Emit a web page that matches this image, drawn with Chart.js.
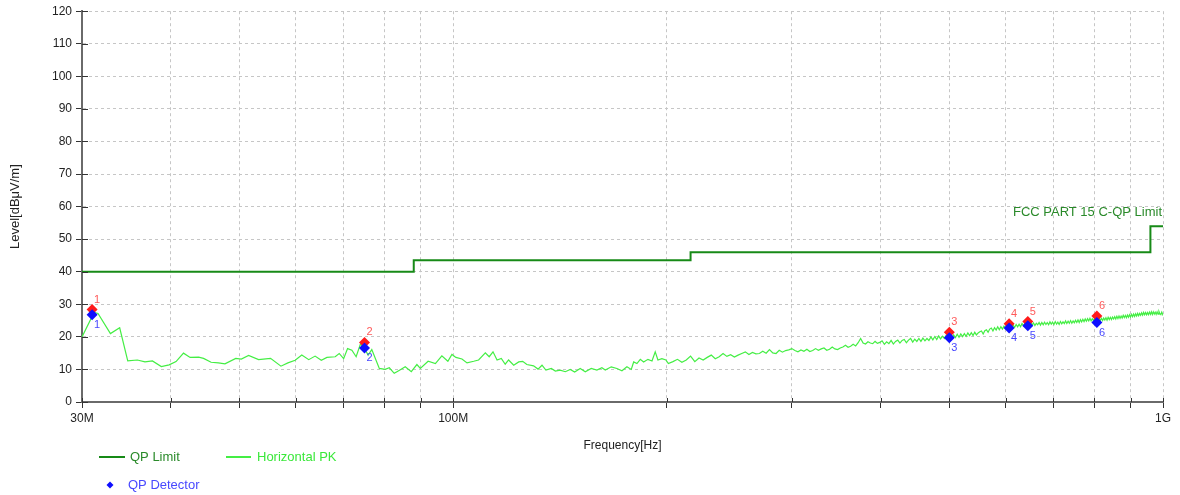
<!DOCTYPE html>
<html>
<head>
<meta charset="utf-8">
<title>Radiated Emission Scan</title>
<script src="https://cdn.jsdelivr.net/npm/chart.js@4.4.1/dist/chart.umd.min.js"></script>
<style>
  html, body { margin: 0; padding: 0; background: #ffffff; }
  canvas { display: block; }
</style>
</head>
<body>
<canvas id="scan" width="1180" height="495"></canvas>
<script>
// ---- Data -------------------------------------------------------------
// FCC Part 15 class limit (QP), stepped; frequencies in MHz, level in dBµV/m
const limitFreqMHz = [30, 88, 216, 960, 1000];
const limitLevel   = [40, 43.5, 46, 54, 54];

// Horizontal polarisation peak sweep: [MHz, dBµV/m]
const pkTrace = [
  [30.0,20.0],[31.2,27.5],[31.6,27.2],[32.9,21.0],[33.9,22.8],[34.8,12.6],[35.9,12.9],[36.8,12.3],
  [37.7,12.6],[38.8,10.9],[39.8,11.4],[40.7,12.4],[41.7,15.0],[42.6,13.7],[43.8,13.8],[44.5,13.4],
  [45.6,12.2],[46.7,12.0],[47.7,11.7],[49.4,13.4],[50.3,13.2],[51.5,14.3],[53.2,13.0],[55.3,13.4],
  [57.2,11.0],[58.5,12.0],[59.9,12.8],[61.2,14.4],[62.6,13.0],[63.9,14.1],[65.2,12.8],[66.4,13.7],
  [68.2,13.9],[69.1,14.9],[70.1,13.3],[71.0,16.4],[72.0,15.9],[73.0,13.9],[74.0,17.7],[74.8,16.9],
  [75.9,14.4],[76.8,16.1],[78.7,10.3],[80.2,10.0],[81.3,10.5],[82.6,8.8],[83.8,9.6],[85.6,10.8],
  [87.3,9.3],[88.9,11.5],[89.9,10.3],[92.2,12.5],[94.4,11.8],[96.4,14.2],[98.3,12.5],[99.6,14.6],
  [100.9,13.7],[102.9,13.2],[104.6,12.0],[106.9,12.5],[108.6,12.9],[111.0,15.1],[112.4,13.9],[113.8,15.4],
  [115.3,12.9],[116.9,13.4],[118.4,11.6],[119.7,12.9],[121.7,11.3],[123.7,12.3],[125.3,12.5],[127.0,11.5],
  [129.8,11.1],[131.7,10.1],[133.4,11.3],[135.1,9.8],[137.5,10.3],[139.3,9.5],[141.5,9.8],[143.9,9.3],
  [146.2,10.0],[148.3,9.2],[151.0,10.3],[153.5,9.3],[156.5,10.3],[159.4,9.8],[162.0,10.5],[163.8,9.8],
  [167.0,10.8],[170.1,10.3],[172.9,9.6],[175.7,10.8],[178.2,10.0],[179.6,12.3],[181.5,11.8],[183.5,13.1],
  [185.5,12.3],[188.1,13.1],[190.6,12.6],[192.6,15.4],[194.3,12.9],[196.8,13.3],[199.4,12.9],
  [201,11.8],[204,12.4],[207,13.1],[210,12.2],[213,12.9],[216,14.1],[219,12.4],[222,13.5],[225,12.9],
  [228,13.7],[231,14.4],[234,13.3],[237,13.9],[240,14.9],[243,14.0],[246,14.5],[249,13.8],
  [252,14.4],[255,14.9],[258,15.4],[261,14.6],[264,15.2],[267,14.8],[270,14.9],[273,15.6],
  [276,15.0],[279,16.1],[282,15.1],[285,14.9],[288,15.9],[291,15.3],[294,15.8],[297,16.0],[300,16.4],
  [303,15.8],[306,15.4],[309,16.0],[312,15.6],[315,16.2],[318,15.5],[321,15.8],[324,16.4],
  [327,15.9],[330,16.3],[333,16.6],[336,15.9],[339,16.2],[342,16.9],[345,16.3],[348,16.1],
  [351,16.6],[354,16.9],[357,17.4],[360,16.8],[363,17.1],[366,17.7],[369,17.2],[372,18.2],[375,19.5],
  [378,18.1],[381,17.8],[384,18.5],[387,18.1],[390,17.9],[393,18.6],[396,18.0],[399,18.3],
  [402,18.8],[405,17.7],[408,18.5],[411,17.9],[414,18.9],[417,17.8],[420,18.6],[423,19.0],
  [426,18.1],[429,18.9],[432,19.2],[435,18.2],[438,19.0],[441,19.5],[444,18.4],[447,19.3],[450,18.6],
  [453,19.5],[456,18.6],[459,19.6],[462,18.8],[465,19.5],[468,18.9],[471,20.0],[474,19.1],
  [477,20.1],[480,19.2],[483,20.3],[486,19.4],[489,20.2],[492,19.5],[495,20.5],[498,19.5],
  [501,20.4],[504,19.6],[507,20.6],[510,19.8],[513,20.8],[516,19.9],[519,20.9],[522,20.1],[525,21.0],
  [528,20.2],[531,21.2],[534,20.4],[537,21.3],[540,20.4],[543,21.4],[546,20.6],[549,21.2],
  [552,21.6],[555,21.8],[558,20.9],[561,21.9],[564,22.2],[567,21.4],[570,22.4],[573,22.7],
  [576,21.8],[579,22.8],[582,22.1],[585,23.1],[588,22.2],[591,23.1],[594,22.4],[597,23.3],[600,22.6],
  [603,23.3],[606,22.6],[609,23.6],[612,22.8],[615,23.6],[618,22.9],[621,23.8],[624,23.1],
  [627,23.9],[630,23.1],[633,24.1],[636,23.4],[639,24.2],[642,23.4],[645,24.3],[648,23.6],
  [651,24.4],[654,23.6],[657,24.3],[660,23.5],[663,24.2],[666,23.7],[669,24.4],[672,23.6],[675,24.4],
  [678,23.7],[681,24.5],[684,23.8],[687,24.4],[690,23.7],[693,24.6],[696,23.9],[699,24.5],
  [702,23.8],[705,24.7],[708,23.9],[711,24.5],[714,23.8],[717,24.7],[720,24.0],[723,24.6],
  [726,24.1],[729,24.9],[732,24.1],[735,24.8],[738,24.2],[741,25.0],[744,24.2],[747,24.9],[750,24.3],
  [753,25.1],[756,24.4],[759,25.2],[762,24.4],[765,25.3],[768,24.6],[771,25.4],[774,24.7],
  [777,25.5],[780,24.8],[783,25.6],[786,24.9],[789,25.7],[792,24.9],[795,25.6],[798,25.0],
  [801,25.7],[804,24.9],[807,25.5],[810,24.8],[813,25.7],[816,25.0],[819,25.7],[822,25.0],[825,25.8],
  [828,25.2],[831,25.9],[834,25.1],[837,26.0],[840,25.3],[843,26.0],[846,25.3],[849,26.1],
  [852,25.5],[855,26.2],[858,25.5],[861,26.3],[864,25.6],[867,26.4],[870,25.7],[873,26.4],
  [876,25.8],[879,26.6],[882,25.9],[885,26.6],[888,25.9],[891,26.7],[894,26.0],[897,26.8],[900,26.1],
  [903,26.9],[906,26.2],[909,27.0],[912,26.3],[915,27.1],[918,26.4],[921,27.2],[924,26.5],
  [927,27.2],[930,26.6],[933,27.4],[936,26.7],[939,27.5],[942,26.8],[945,27.5],[948,26.8],
  [951,27.5],[954,26.8],[957,27.6],[960,26.9],[963,27.7],[966,26.9],[969,27.7],[972,27.0],[975,27.6],
  [978,26.9],[981,27.7],[984,27.0],[987,27.8],[990,27.1],[993,26.8],[996,27.6],[999,26.9],[1000,27.2]
];

// Final measurement points
const markerFreqMHz = [31.0, 75.0, 500, 607, 645, 807];
const markerPeak    = [28.4, 18.3, 21.4, 24.0, 24.7, 26.4];
const markerQP      = [26.8, 16.6, 19.7, 22.7, 23.4, 24.4];
const markerNo      = ['1', '2', '3', '4', '5', '6'];

// Axis ticks
const xTickValues = [30, 40, 50, 60, 70, 80, 90, 100, 200, 300, 400, 500, 600, 700, 800, 900, 1000];
const xTickLabels = { 30: '30M', 100: '100M', 1000: '1G' };
const yMin = 0, yMax = 120, yStep = 10;

// ---- Styling ----------------------------------------------------------
const FONT = "'Liberation Sans', Arial, Helvetica, sans-serif";
const COL = {
  limit: '#178a17',
  limitText: '#2a8a2a',
  trace: '#44ee44',
  traceText: '#3ae83a',
  peak: '#ff1a1a',
  peakText: '#ff5a5a',
  qp: '#0e0eff',
  qpText: '#4848ff',
  text: '#222222',
  grid: '#c6c6c6',
  axis: '#6a6a6a',
  tick: '#333333'
};

const toPoints = (xs, ys) => xs.map((x, i) => ({ x, y: ys[i] }));

// Labels, titles, legend and tick marks crossing into the plot
const overlay = {
  id: 'overlay',
  afterDatasetsDraw(chart) {
    const { ctx, scales: { x, y } } = chart;
    ctx.save();
    ctx.font = `11px ${FONT}`;
    ctx.textAlign = 'left';
    ctx.textBaseline = 'middle';
    markerFreqMHz.forEach((f, i) => {
      const px = x.getPixelForValue(f);
      ctx.fillStyle = COL.peakText;
      ctx.fillText(markerNo[i], px + 2, y.getPixelForValue(markerPeak[i]) - 10);
      ctx.fillStyle = COL.qpText;
      ctx.fillText(markerNo[i], px + 2, y.getPixelForValue(markerQP[i]) + 10);
    });
    ctx.restore();
  },
  afterDraw(chart) {
    const { ctx, chartArea: a, scales: { x, y } } = chart;
    ctx.save();

    // inner halves of the tick marks
    ctx.strokeStyle = COL.tick;
    ctx.lineWidth = 1;
    ctx.beginPath();
    y.ticks.forEach(t => {
      const py = Math.round(y.getPixelForValue(t.value)) + 0.5;
      ctx.moveTo(a.left, py); ctx.lineTo(a.left + 6, py);
    });
    x.ticks.forEach(t => {
      const px = Math.round(x.getPixelForValue(t.value)) + 0.5;
      ctx.moveTo(px, a.bottom); ctx.lineTo(px, a.bottom - 4);
    });
    ctx.stroke();

    // limit line caption
    ctx.font = `13px ${FONT}`;
    ctx.fillStyle = COL.limitText;
    ctx.textAlign = 'right';
    ctx.textBaseline = 'middle';
    ctx.fillText('FCC PART 15 C-QP Limit', a.right - 1, y.getPixelForValue(54) - 14);

    // axis titles
    ctx.fillStyle = COL.text;
    ctx.font = `12px ${FONT}`;
    ctx.textAlign = 'center';
    ctx.fillText('Frequency[Hz]', (a.left + a.right) / 2, 446);
    ctx.save();
    ctx.translate(15, (a.top + a.bottom) / 2);
    ctx.rotate(-Math.PI / 2);
    ctx.font = `13px ${FONT}`;
    ctx.fillText('Level[dBμV/m]', 0, 0);
    ctx.restore();

    // legend
    ctx.textAlign = 'left';
    ctx.font = `13px ${FONT}`;
    ctx.lineWidth = 2;
    ctx.strokeStyle = COL.limit;
    ctx.beginPath(); ctx.moveTo(99, 457); ctx.lineTo(125, 457); ctx.stroke();
    ctx.fillStyle = COL.limitText;
    ctx.fillText('QP Limit', 130, 457);

    ctx.strokeStyle = COL.trace;
    ctx.beginPath(); ctx.moveTo(226, 457); ctx.lineTo(251, 457); ctx.stroke();
    ctx.fillStyle = COL.traceText;
    ctx.fillText('Horizontal PK', 257, 457);

    ctx.fillStyle = COL.qp;
    ctx.beginPath();
    ctx.moveTo(110, 481.5); ctx.lineTo(113.5, 485); ctx.lineTo(110, 488.5); ctx.lineTo(106.5, 485);
    ctx.closePath(); ctx.fill();
    ctx.fillStyle = COL.qpText;
    ctx.fillText('QP Detector', 128, 485);

    ctx.restore();
  }
};

const axisFont = { family: FONT, size: 12 };

new Chart(document.getElementById('scan'), {
  type: 'line',
  data: {
    datasets: [
      {
        label: 'Horizontal PK',
        data: pkTrace.map(([f, v]) => ({ x: f, y: v })),
        borderColor: COL.trace,
        borderWidth: 1.2,
        pointRadius: 0,
        tension: 0,
        order: 4
      },
      {
        label: 'QP Limit',
        data: toPoints(limitFreqMHz, limitLevel),
        borderColor: COL.limit,
        borderWidth: 2,
        pointRadius: 0,
        stepped: 'before',
        order: 3
      },
      {
        label: 'Peak',
        data: toPoints(markerFreqMHz, markerPeak),
        showLine: false,
        pointStyle: 'rectRot',
        pointRadius: 5.5,
        pointBorderWidth: 0,
        pointBackgroundColor: COL.peak,
        pointBorderColor: COL.peak,
        order: 2
      },
      {
        label: 'QP Detector',
        data: toPoints(markerFreqMHz, markerQP),
        showLine: false,
        pointStyle: 'rectRot',
        pointRadius: 5.5,
        pointBorderWidth: 0,
        pointBackgroundColor: COL.qp,
        pointBorderColor: COL.qp,
        order: 1
      }
    ]
  },
  options: {
    responsive: false,
    animation: false,
    devicePixelRatio: 1,
    events: [],
    layout: { padding: { top: 10, right: 17, left: 0, bottom: 0 } },
    plugins: { legend: { display: false }, tooltip: { enabled: false } },
    scales: {
      x: {
        type: 'logarithmic',
        min: 30,
        max: 1000,
        afterBuildTicks: s => { s.ticks = xTickValues.map(v => ({ value: v })); },
        afterFit: s => { s.height = 93; },
        ticks: {
          autoSkip: false,
          maxRotation: 0,
          minRotation: 0,
          padding: 3,
          color: COL.text,
          font: axisFont,
          callback: v => xTickLabels[v] || ''
        },
        grid: {
          color: COL.grid,
          lineWidth: 1,
          tickLength: 6,
          tickColor: COL.tick,
          tickWidth: 1,
          tickBorderDash: []
        },
        border: { display: true, color: COL.axis, width: 2, dash: [3, 3] }
      },
      y: {
        min: yMin,
        max: yMax,
        afterFit: s => { s.width = 82; },
        ticks: {
          stepSize: yStep,
          padding: 4,
          color: COL.text,
          font: axisFont
        },
        grid: {
          color: COL.grid,
          lineWidth: 1,
          tickLength: 6,
          tickColor: COL.tick,
          tickWidth: 1,
          tickBorderDash: []
        },
        border: { display: true, color: COL.axis, width: 2, dash: [3, 3] }
      }
    }
  },
  plugins: [overlay]
});
</script>
</body>
</html>
